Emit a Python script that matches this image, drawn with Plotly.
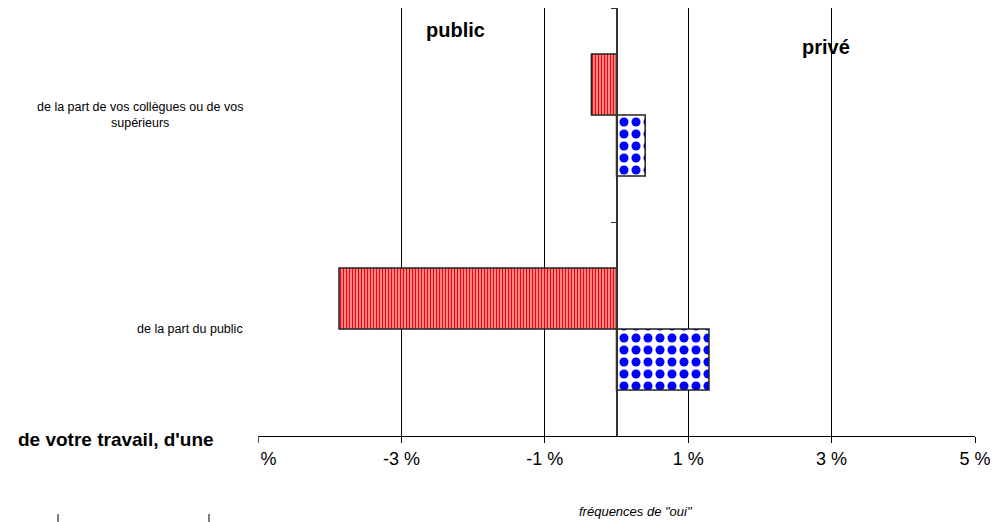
import plotly.graph_objects as go

categories = ["de la part de vos collègues ou de vos<br>supérieurs", "de la part du public"]
public_vals = [-0.35, -3.87]
prive_vals = [0.40, 1.29]
tick_vals = [-5, -3, -1, 1, 3, 5]
tick_text = ["-5 %", "-3 %", "-1 %", "1 %", "3 %", "5 %"]

FONT = "Liberation Sans, Arial, sans-serif"
OFF = 8  # page offset of the figure (body margin)
W, H = 1008 - OFF, 522 - OFF
# plot area in page pixels: x 258..975, y 8..436
ML, MR, MT, MB = 258 - OFF, 33, 0, 522 - 436
PW, PH = W - ML - MR, H - MT - MB

def px_x(p):
    return (p - OFF - ML) / PW

def px_y(p):
    return (MT + PH - (p - OFF)) / PH

fig = go.Figure()
fig.add_trace(go.Bar(
    y=categories, x=public_vals, orientation="h", name="public",
    marker=dict(color="white", line=dict(color="#222", width=1.5),
                pattern=dict(shape="|", fgcolor="red", bgcolor="white", fgopacity=1,
                             size=3, solidity=0.65)),
))
fig.add_trace(go.Bar(
    y=categories, x=prive_vals, orientation="h", name="privé",
    marker=dict(color="white", line=dict(color="#222", width=1.5),
                pattern=dict(shape=".", fgcolor="blue", bgcolor="white", fgopacity=1,
                             size=12, solidity=0.45)),
))

annotations = [
    dict(text="public", x=px_x(455), y=px_y(30), xref="paper", yref="paper", showarrow=False,
         xanchor="center", yanchor="middle",
         font=dict(family=FONT, size=20, color="black", weight="bold")),
    dict(text="privé", x=px_x(826), y=px_y(47), xref="paper", yref="paper", showarrow=False,
         xanchor="center", yanchor="middle",
         font=dict(family=FONT, size=20, color="black", weight="bold")),
    dict(text="de votre travail, d'une", x=px_x(216), y=px_y(439), xref="paper", yref="paper",
         xanchor="right", yanchor="middle", showarrow=False,
         font=dict(family=FONT, size=19, color="black", weight="bold")),
    dict(text='fréquences de "oui"', x=px_x(636), y=px_y(512), xref="paper", yref="paper",
         xanchor="center", yanchor="middle",
         showarrow=False, font=dict(family=FONT, size=13, color="black", style="italic")),
]
for c in categories:
    annotations.append(dict(text=c, x=px_x(245), y=c, xref="paper", yref="y", xanchor="right",
                            yanchor="middle", align="center", showarrow=False,
                            font=dict(family=FONT, size=12.5, color="black")))

shapes = [
    dict(type="rect", xref="paper", yref="paper", x0=-0.4, x1=px_x(258.3), y0=px_y(407), y1=-0.3,
         fillcolor="white", line=dict(width=0), layer="above"),
    dict(type="line", xref="paper", yref="paper", x0=px_x(58), x1=px_x(58), y0=px_y(514), y1=px_y(522),
         line=dict(color="black", width=1)),
    dict(type="line", xref="paper", yref="paper", x0=px_x(209), x1=px_x(209), y0=px_y(514), y1=px_y(522),
         line=dict(color="black", width=1)),
]

fig.update_layout(
    width=W, height=H, margin=dict(l=ML, r=MR, t=MT, b=MB),
    paper_bgcolor="white", plot_bgcolor="white", showlegend=False,
    barmode="group", bargap=0.43, bargroupgap=0,
    annotations=annotations, shapes=shapes,
    xaxis=dict(range=[-5, 5], tickvals=tick_vals, ticktext=tick_text, showgrid=True,
               gridcolor="black", gridwidth=1, zeroline=False, showline=True, linecolor="black",
               linewidth=1, ticks="outside", ticklen=6, tickcolor="black",
               tickfont=dict(family=FONT, size=18, color="black")),
    yaxis=dict(type="category", autorange="reversed", anchor="free", position=0.5,
               showline=True, linecolor="#333", linewidth=1.5, ticks="outside", ticklen=5,
               tickcolor="#333", tickson="boundaries", showticklabels=False, showgrid=False,
               zeroline=False),
)
fig.write_html("out.html")
